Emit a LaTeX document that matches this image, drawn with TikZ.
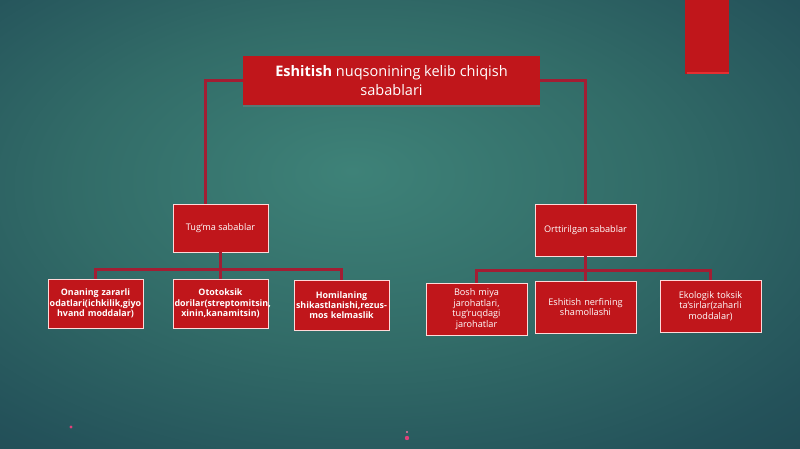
\documentclass[tikz,border=0pt]{standalone}
\usepackage{fontspec}
\setmainfont{Open Sans}
\usetikzlibrary{calc,shadows}
\definecolor{boxred}{HTML}{C0161B}
\definecolor{linered}{HTML}{A31D33}
\definecolor{dotpink}{HTML}{E0407A}
\pgfdeclareradialshading{bgshade}{\pgfpoint{-3bp}{6bp}}{%
  color(0bp)=(rgb,255:red,62;green,130;blue,120);
  color(18bp)=(rgb,255:red,50;green,108;blue,104);
  color(34bp)=(rgb,255:red,36;green,82;blue,90);
  color(50bp)=(rgb,255:red,27;green,64;blue,76);
  color(75bp)=(rgb,255:red,22;green,54;blue,68)}
\tikzset{
  redbox/.style={fill=boxred, draw=white!85!red, line width=0.6pt, text=white, align=center,
    inner sep=1pt, font=\fontsize{7.8}{8.9}\selectfont,
    drop shadow={opacity=0.35, shadow xshift=0.6pt, shadow yshift=-1.2pt}},
  boldbox/.style={redbox, font=\bfseries\fontsize{7.6}{8.7}\selectfont},
  conn/.style={draw=linered, line width=2pt},
}
\begin{document}
\begin{tikzpicture}[x=0.03cm,y=-0.03cm]
\shade[shading=bgshade] (0,0) rectangle (800,449);
\useasboundingbox (0,0) rectangle (800,449);
% top right bar
\fill[boxred] (685,0) rectangle (729,74);
\fill[red!75!white, opacity=0.6] (687,72) rectangle (729,74);
\coordinate (tp) at (391.5,80.5);
\coordinate (tugc) at (220.5,228);
\coordinate (ortc) at (585.5,230);
% title
\node[fill=boxred, text=white, align=center, minimum width=297*0.03cm, minimum height=49*0.03cm,
  inner sep=1pt, font=\fontsize{12.4}{16}\selectfont,
  drop shadow={opacity=0.45, shadow xshift=0pt, shadow yshift=-1.5pt}] (title) at (tp)
  {\textbf{Eshitish} nuqsonining kelib chiqish\\sabablari};
% mid boxes
\node[redbox, minimum width=95*0.03cm, minimum height=48*0.03cm] (tug) at (tugc) {Tug`ma sabablar};
\node[redbox, minimum width=101*0.03cm, minimum height=52*0.03cm] (ort) at (ortc) {Orttirilgan sabablar};
% bottom left
\node[boldbox, minimum width=95*0.03cm, minimum height=49*0.03cm, text width=92*0.03cm] (b1) at (95.5,303.5) {Onaning zararli odatlari(ichkilik,giyo hvand moddalar)};
\node[boldbox, minimum width=95*0.03cm, minimum height=49*0.03cm, text width=92*0.03cm] (b2) at (220.5,303.5) {Ototoksik\\dorilar(streptomitsin,\\xinin,kanamitsin)};
\node[boldbox, minimum width=95*0.03cm, minimum height=50*0.03cm, text width=92*0.03cm] (b3) at (341.5,305) {Homilaning\\shikastlanishi,rezus-\\mos kelmaslik};
% bottom right
\node[redbox, minimum width=101*0.03cm, minimum height=52*0.03cm, text width=96*0.03cm] (b4) at (476.5,309) {Bosh miya\\jarohatlari,\\tug`ruqdagi\\jarohatlar};
\node[redbox, minimum width=101*0.03cm, minimum height=52*0.03cm, text width=96*0.03cm] (b5) at (585.5,307) {Eshitish nerfining\\shamollashi\\[3pt]};
\node[redbox, minimum width=101*0.03cm, minimum height=52*0.03cm, text width=96*0.03cm] (b6) at (710.5,306) {Ekologik toksik\\ta`sirlar(zaharli\\moddalar)};
% connectors
\draw[conn] (title.west) -| ($(tug.north)+(-15,0)$);
\draw[conn] (title.east) -| (ort.north);
\coordinate (tl) at ($(tug.south)+(0,17)$);
\draw[conn] (tug.south) -- (b2.north);
\draw[conn] (b1.north) |- (tl) -| (b3.north);
\coordinate (tr) at ($(ort.south)+(0,14)$);
\draw[conn] (ort.south) -- (b5.north);
\draw[conn] (b4.north) |- (tr) -| (b6.north);
% small marks
\fill[dotpink] (71,427) circle (1.6);
\fill[dotpink] (407,438) circle (2.2);
\fill[dotpink!70!white] (407,432) circle (1.1);
\end{tikzpicture}
\end{document}
